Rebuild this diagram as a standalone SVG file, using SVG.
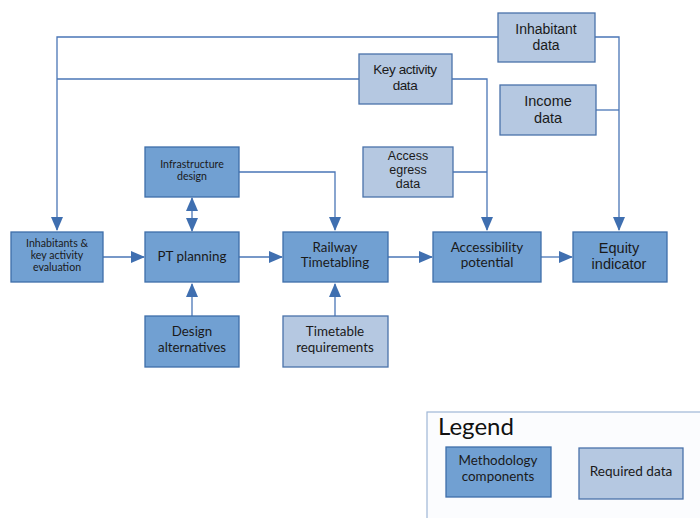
<svg xmlns="http://www.w3.org/2000/svg" width="700" height="518" viewBox="0 0 700 518">
<style>
.m{fill:#71a0d2;stroke:#3e6eaa;stroke-width:1.3}
.d{fill:#b5c8e1;stroke:#4a72aa;stroke-width:1.3}
.t{font-family:Lato,"Open Sans",sans-serif;fill:#1a1a1a;text-anchor:middle}
.a{font-family:"Liberation Sans",Arial,sans-serif;fill:#1a1a1a;text-anchor:middle}
.c path{fill:none;stroke:#4a76b6;stroke-width:1.3}
</style>
<defs>
<marker id="ar" markerUnits="userSpaceOnUse" markerWidth="14" markerHeight="12" viewBox="0 0 14 12" refX="13" refY="6" orient="auto-start-reverse">
<path d="M0,0 L14,6 L0,12 z" fill="#3f6fb0"/>
</marker>
</defs>
<rect x="0" y="0" width="700" height="518" fill="#fff"/>
<g class="c">
<path d="M498,37 H57 V230" marker-end="url(#ar)"/>
<path d="M359,79 H57"/>
<path d="M452,79 H487 V230" marker-end="url(#ar)"/>
<path d="M453,172 H487"/>
<path d="M595,37 H619 V230" marker-end="url(#ar)"/>
<path d="M596,110 H619"/>
<path d="M239,172 H335 V230" marker-end="url(#ar)"/>
<path d="M192,198 V231" marker-start="url(#ar)" marker-end="url(#ar)"/>
<path d="M192,316 V284" marker-end="url(#ar)"/>
<path d="M335,316 V284" marker-end="url(#ar)"/>
<path d="M103,257 H144" marker-end="url(#ar)"/>
<path d="M239,257 H282" marker-end="url(#ar)"/>
<path d="M388,257 H432" marker-end="url(#ar)"/>
<path d="M541,257 H572" marker-end="url(#ar)"/>
</g>
<g id="inhabitant-data"><rect class="d" x="498" y="13" width="97" height="49"/>
<text class="a" font-size="14"><tspan x="546" y="34">Inhabitant</tspan><tspan x="546" y="50">data</tspan></text></g>
<g id="key-activity-data"><rect class="d" x="359" y="54" width="93" height="50"/>
<text class="a" font-size="13.5" letter-spacing="-0.4"><tspan x="405" y="74">Key activity</tspan><tspan x="405" y="90">data</tspan></text></g>
<g id="income-data"><rect class="d" x="500" y="85" width="96" height="50"/>
<text class="a" font-size="14.5"><tspan x="548" y="106">Income</tspan><tspan x="548" y="122.5">data</tspan></text></g>
<g id="access-egress-data"><rect class="d" x="363" y="147" width="90" height="50"/>
<text class="a" font-size="12.5"><tspan x="408" y="160">Access</tspan><tspan x="408" y="174">egress</tspan><tspan x="408" y="188">data</tspan></text></g>
<g id="infrastructure-design"><rect class="m" x="145" y="147" width="94" height="50"/>
<text class="t" font-size="10.6"><tspan x="192" y="167.5">Infrastructure</tspan><tspan x="192" y="179.5">design</tspan></text></g>
<g id="inhabitants-evaluation"><rect class="m" x="11" y="232" width="92" height="50"/>
<text class="t" font-size="10.6"><tspan x="57" y="246.5">Inhabitants &amp;</tspan><tspan x="57" y="258.5">key activity</tspan><tspan x="57" y="270.5">evaluation</tspan></text></g>
<g id="pt-planning"><rect class="m" x="145" y="232" width="94" height="50"/>
<text class="t" font-size="13.4"><tspan x="192" y="261">PT planning</tspan></text></g>
<g id="railway-timetabling"><rect class="m" x="283" y="232" width="105" height="50"/>
<text class="t" font-size="13.3"><tspan x="335" y="251.5">Railway</tspan><tspan x="335" y="267">Timetabling</tspan></text></g>
<g id="accessibility-potential"><rect class="m" x="433" y="232" width="108" height="50"/>
<text class="t" font-size="13.5"><tspan x="487" y="251.5">Accessibility</tspan><tspan x="487" y="267">potential</tspan></text></g>
<g id="equity-indicator"><rect class="m" x="573" y="232" width="94" height="50"/>
<text class="a" font-size="14.5"><tspan x="619" y="252.5">Equity</tspan><tspan x="619" y="269">indicator</tspan></text></g>
<g id="design-alternatives"><rect class="m" x="145" y="316" width="94" height="51"/>
<text class="t" font-size="13.3"><tspan x="192" y="336">Design</tspan><tspan x="192" y="351.5">alternatives</tspan></text></g>
<g id="timetable-requirements"><rect class="d" x="283" y="316" width="105" height="51"/>
<text class="t" font-size="13.4"><tspan x="335" y="336">Timetable</tspan><tspan x="335" y="351.5">requirements</tspan></text></g>
<g id="legend">
<rect x="427" y="412" width="290" height="120" fill="#fbfcfe" stroke="#9fb6d6" stroke-width="1.2"/>
<text x="438" y="435" font-family="Lato,'Open Sans',sans-serif" font-size="24" fill="#111">Legend</text>
<rect class="m" x="446" y="447" width="105" height="50"/>
<text class="t" font-size="13.4"><tspan x="498" y="465">Methodology</tspan><tspan x="498" y="480.5">components</tspan></text>
<rect class="d" x="579" y="448" width="104" height="51"/>
<text class="t" font-size="13.6"><tspan x="631" y="476">Required data</tspan></text>
</g>
</svg>
